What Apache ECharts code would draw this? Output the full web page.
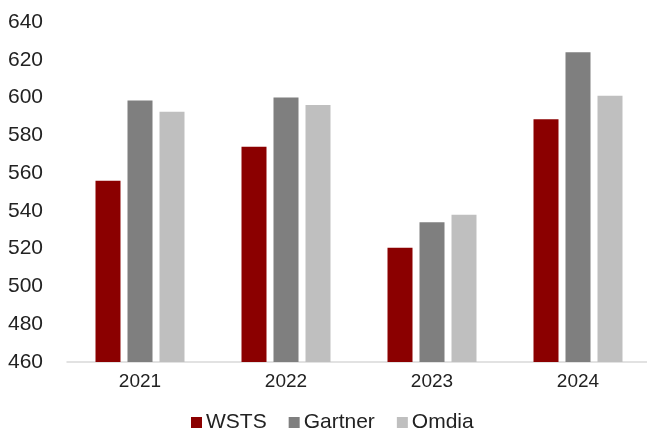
<!DOCTYPE html>
<html>
<head>
<meta charset="utf-8">
<script src="https://cdn.jsdelivr.net/npm/echarts@6/dist/echarts.min.js"></script>
<style>
  html, body { margin: 0; padding: 0; background: #fff; }
  #chart { width: 647px; height: 432px; }
</style>
</head>
<body>
<div id="chart"></div>
<script>
// Semiconductor market estimates by source (USD bn)
const years = ['2021', '2022', '2023', '2024'];
const wsts = [556, 574, 520.5, 588.5];
const gartner = [598.5, 600, 534, 624];
const omdia = [592.5, 596, 538, 601];

const seriesNames = ['WSTS', 'Gartner', 'Omdia'];
const seriesColors = ['#8b0000', '#7f7f7f', '#bfbfbf'];
const seriesData = [wsts, gartner, omdia];

const chart = echarts.init(document.getElementById('chart'), null, { renderer: 'canvas' });

chart.setOption({
  animation: false,
  textStyle: { fontFamily: 'Liberation Sans, Arial, sans-serif' },
  grid: {
    left: 67, top: 22, width: 584, bottom: 70,
    containLabel: false,
    outerBoundsMode: 'none'
  },
  legend: {
    left: 186,
    top: 407,
    itemWidth: 11,
    itemHeight: 11,
    itemGap: 22,
    icon: 'rect',
    textStyle: { fontSize: 21, color: '#222', padding: [0, 0, 0, -1] },
    data: seriesNames
  },
  xAxis: {
    type: 'category',
    data: years,
    axisLine: { lineStyle: { color: '#d9d9d9', width: 1.5 } },
    axisTick: { show: false },
    axisLabel: { fontSize: 19, color: '#222', margin: 10 }
  },
  yAxis: {
    type: 'value',
    min: 460,
    max: 640,
    interval: 20,
    axisLine: { show: false },
    axisTick: { show: false },
    splitLine: { show: false },
    axisLabel: { fontSize: 21, color: '#222', margin: 24 }
  },
  series: seriesNames.map((name, i) => ({
    name: name,
    type: 'bar',
    data: seriesData[i],
    barWidth: 25,
    barGap: '28%',
    itemStyle: { color: seriesColors[i] }
  }))
});
</script>
</body>
</html>
